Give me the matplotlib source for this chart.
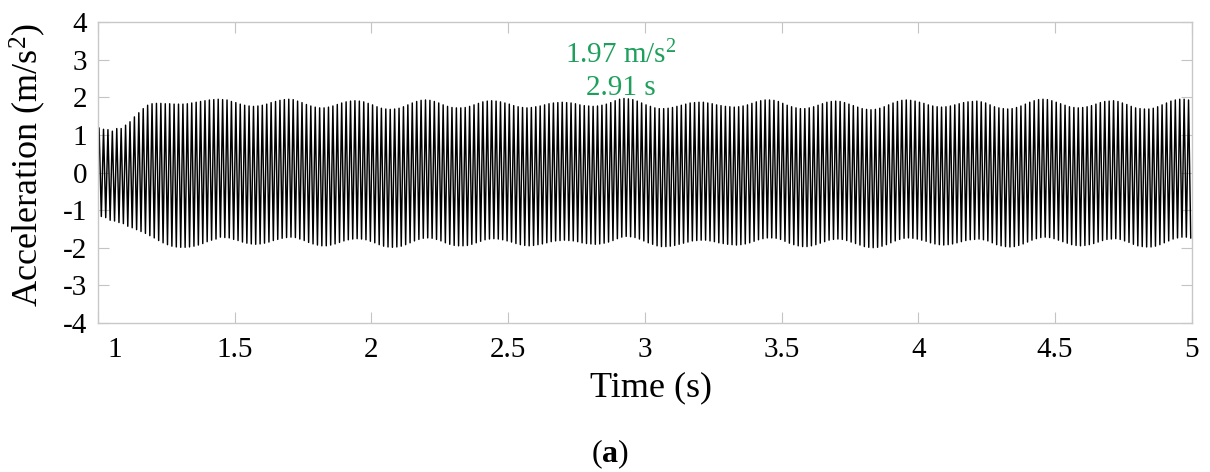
import numpy as np
import matplotlib
matplotlib.use("Agg")
import matplotlib.pyplot as plt

plt.rcParams['font.family'] = ['Liberation Serif', 'DejaVu Serif']
plt.rcParams['axes.unicode_minus'] = False
plt.rcParams['mathtext.fontset'] = 'custom'
plt.rcParams['mathtext.rm'] = 'Liberation Serif'
plt.rcParams['mathtext.it'] = 'Liberation Serif:italic'
plt.rcParams['mathtext.bf'] = 'Liberation Serif:bold'

# time span of the record (s)
t_start, t_end = 1.0, 5.0

# positive peak of each vibration cycle (m/s^2)
upper_peaks = [
    1.18, 1.15, 1.14, 1.10, 1.17, 1.17, 1.26, 1.35, 1.48, 1.59, 1.70, 1.79, 1.83,
    1.84, 1.84, 1.83, 1.83, 1.82, 1.82,
    1.82, 1.83, 1.85, 1.87, 1.89, 1.91, 1.93, 1.94,
    1.95, 1.94, 1.93, 1.89, 1.86, 1.82, 1.79, 1.77, 1.76, 1.77, 1.79, 1.82, 1.86, 1.89, 1.92, 1.94,
    1.95, 1.94, 1.90, 1.86, 1.81, 1.77, 1.74, 1.72, 1.72, 1.74, 1.77, 1.81, 1.85, 1.88, 1.90,
    1.91, 1.90, 1.88, 1.84, 1.80, 1.75, 1.71, 1.69, 1.68, 1.69, 1.71, 1.75, 1.80, 1.85, 1.89, 1.92,
    1.93, 1.92, 1.89, 1.85, 1.80, 1.76, 1.73, 1.72, 1.72, 1.73, 1.76, 1.80, 1.84, 1.88, 1.90,
    1.91, 1.90, 1.88, 1.85, 1.82, 1.78, 1.75, 1.73, 1.72, 1.73, 1.75, 1.77, 1.80, 1.83, 1.85, 1.86,
    1.87, 1.86, 1.85, 1.83, 1.80, 1.78, 1.77, 1.76, 1.77, 1.79, 1.82, 1.86, 1.91, 1.95,
    1.97, 1.96, 1.94, 1.90, 1.85, 1.80, 1.76, 1.72, 1.70, 1.70, 1.71, 1.73, 1.76, 1.79, 1.82, 1.85, 1.86,
    1.87, 1.87, 1.85, 1.83, 1.80, 1.78, 1.76, 1.75, 1.74, 1.75, 1.77, 1.80, 1.84, 1.88, 1.91, 1.93,
    1.93, 1.92, 1.89, 1.84, 1.79, 1.75, 1.72, 1.70, 1.70, 1.72, 1.75, 1.79, 1.83, 1.87, 1.89,
    1.90, 1.89, 1.86, 1.82, 1.78, 1.74, 1.70, 1.68, 1.67, 1.68, 1.71, 1.75, 1.80, 1.85, 1.89, 1.92,
    1.93, 1.92, 1.90, 1.87, 1.84, 1.80, 1.77, 1.75, 1.74, 1.75, 1.77, 1.80, 1.83, 1.86, 1.88, 1.89,
    1.90, 1.88, 1.85, 1.80, 1.75, 1.72, 1.70, 1.69, 1.70, 1.73, 1.77, 1.82, 1.87, 1.91, 1.94,
    1.95, 1.94, 1.91, 1.87, 1.83, 1.79, 1.75, 1.73, 1.72, 1.73, 1.75, 1.78, 1.82, 1.86, 1.89, 1.90,
    1.91, 1.89, 1.85, 1.81, 1.76, 1.72, 1.70, 1.69, 1.69, 1.71, 1.75, 1.80, 1.85, 1.90, 1.93,
    1.95, 1.95, 1.93,
]

# negative peak of each vibration cycle (m/s^2)
lower_peaks = [
    -1.17, -1.20, -1.27, -1.29, -1.33, -1.36, -1.43, -1.47, -1.52, -1.57, -1.62, -1.68, -1.74,
    -1.81, -1.87, -1.92, -1.96, -1.98, -1.99,
    -1.99, -1.98, -1.96, -1.93, -1.89, -1.84, -1.80, -1.77,
    -1.72, -1.73, -1.74, -1.78, -1.81, -1.85, -1.88, -1.90, -1.91, -1.90, -1.88, -1.85, -1.81, -1.78, -1.75, -1.73,
    -1.72, -1.73, -1.77, -1.81, -1.86, -1.90, -1.93, -1.95, -1.95, -1.93, -1.90, -1.86, -1.82, -1.79, -1.77,
    -1.76, -1.77, -1.79, -1.83, -1.87, -1.92, -1.96, -1.98, -1.99, -1.98, -1.96, -1.92, -1.87, -1.82, -1.78, -1.75,
    -1.74, -1.75, -1.78, -1.82, -1.87, -1.91, -1.94, -1.95, -1.95, -1.94, -1.91, -1.87, -1.83, -1.79, -1.77,
    -1.76, -1.77, -1.79, -1.82, -1.85, -1.89, -1.92, -1.94, -1.95, -1.94, -1.92, -1.90, -1.87, -1.84, -1.82, -1.81,
    -1.80, -1.81, -1.82, -1.84, -1.87, -1.89, -1.90, -1.91, -1.90, -1.88, -1.85, -1.81, -1.76, -1.72,
    -1.70, -1.71, -1.73, -1.77, -1.82, -1.87, -1.91, -1.95, -1.97, -1.97, -1.96, -1.94, -1.91, -1.88, -1.85, -1.82, -1.81,
    -1.80, -1.80, -1.82, -1.84, -1.87, -1.89, -1.91, -1.92, -1.93, -1.92, -1.90, -1.87, -1.83, -1.79, -1.76, -1.74,
    -1.74, -1.75, -1.78, -1.83, -1.88, -1.92, -1.95, -1.97, -1.97, -1.95, -1.92, -1.88, -1.84, -1.80, -1.78,
    -1.77, -1.78, -1.81, -1.85, -1.89, -1.93, -1.97, -1.99, -2.00, -1.99, -1.96, -1.92, -1.87, -1.82, -1.78, -1.75,
    -1.74, -1.75, -1.77, -1.80, -1.83, -1.87, -1.90, -1.92, -1.93, -1.92, -1.90, -1.87, -1.84, -1.81, -1.79, -1.78,
    -1.77, -1.79, -1.82, -1.87, -1.92, -1.95, -1.97, -1.98, -1.97, -1.94, -1.90, -1.85, -1.80, -1.76, -1.73,
    -1.72, -1.73, -1.76, -1.80, -1.84, -1.88, -1.92, -1.94, -1.95, -1.94, -1.92, -1.89, -1.85, -1.81, -1.78, -1.77,
    -1.76, -1.78, -1.82, -1.86, -1.91, -1.95, -1.97, -1.98, -1.98, -1.96, -1.92, -1.87, -1.82, -1.77, -1.74,
    -1.72, -1.72, -1.74,
]

max_label = r'1.97 m/s$^2$'
max_time_label = '2.91 s'
max_time = 2.91

xticks = [1, 1.5, 2, 2.5, 3, 3.5, 4, 4.5, 5]
xtick_labels = ['', '1.5', '2', '2.5', '3', '3.5', '4', '4.5', '5']
yticks = [-4, -3, -2, -1, 0, 1, 2, 3, 4]

# one cycle per entry: positive peak then negative peak
n = len(upper_peaks)
edges = np.linspace(t_start, t_end, n + 1)
period = edges[1] - edges[0]
t = np.ravel(np.column_stack([edges[:-1] + 0.25 * period, edges[:-1] + 0.75 * period]))
acc = np.ravel(np.column_stack([upper_peaks, lower_peaks]))

fig = plt.figure(figsize=(12.10, 4.72), dpi=100)
ax = fig.add_axes([0.081, 0.316, 0.904, 0.637])
ax.plot(t, acc, color='black', lw=1.05)

ax.set_xlim(t_start, t_end)
ax.set_ylim(-4, 4)
ax.set_xticks(xticks)
ax.set_xticklabels(xtick_labels)
ax.set_yticks(yticks)
ax.tick_params(direction='in', length=8, width=0.8, color='#c4c4c4',
               labelsize=21, top=True, right=True)
ax.tick_params(axis='x', pad=10)
ax.tick_params(axis='y', pad=8)
for s in ax.spines.values():
    s.set_color('#c8c8c8')
    s.set_linewidth(1.0)

# the "1" label sits a little to the right of its tick in the original
ax.annotate('1', xy=(t_start, 0), xycoords=('data', 'axes fraction'),
            xytext=(12, -10), textcoords='offset points',
            ha='center', va='top', fontsize=21)

ax.text(max_time, 3.12, max_label, color='#1e9f5c', fontsize=21, ha='center', va='center')
ax.text(max_time, 2.25, max_time_label, color='#1e9f5c', fontsize=21, ha='center', va='center')

fig.text(28 / 1210, 1 - 165 / 472, r'Acceleration (m/s$^2$)', rotation=90,
         ha='center', va='center', fontsize=26)
fig.text(651 / 1210, 1 - 388 / 472, 'Time (s)', ha='center', va='center', fontsize=26)
fig.text(610 / 1210, 1 - 454 / 472, r'($\mathbf{a}$)', ha='center', va='center', fontsize=23)

fig.savefig('out.png', dpi=100)
